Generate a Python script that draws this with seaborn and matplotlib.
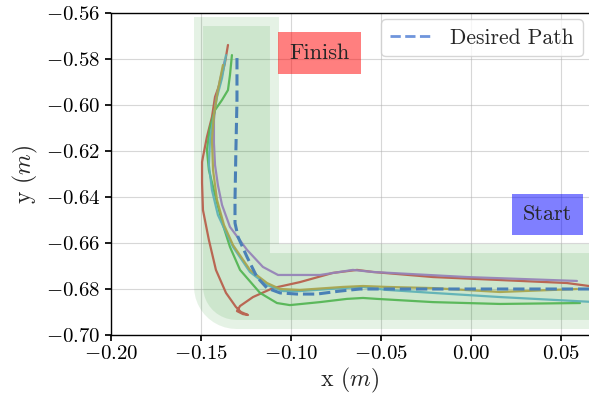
import numpy as np
import pandas as pd
import seaborn as sns
import matplotlib
matplotlib.use("Agg")
import matplotlib.pyplot as plt
from matplotlib.lines import Line2D

# ---- data -------------------------------------------------------------
# reference path the robot is asked to follow
desired_x = [-0.130, -0.130, -0.1306, -0.1311, -0.1311, -0.1294, -0.1244, -0.1189,
             -0.1133, -0.1061, -0.0967, -0.0856, -0.0728, -0.0617, -0.0394, 0.070]
desired_y = [-0.5796, -0.5978, -0.6196, -0.6413, -0.6513, -0.6574, -0.6661, -0.6748,
             -0.6796, -0.6817, -0.6822, -0.6822, -0.6809, -0.6800, -0.6800, -0.6800]

# corridor centre line (free space around the path)
corridor_x = [-0.1308, -0.1308, 0.20]
corridor_y = [-0.580, -0.6785, -0.6785]

# measured trajectories, start (right) -> finish (top left)
run_a_x = [0.0694, 0.0533, 0.0161, -0.0211, -0.0544, -0.0633, -0.0767, -0.0950,
           -0.1100, -0.1211, -0.1283, -0.1300, -0.1267, -0.1239, -0.1278, -0.1306,
           -0.1361, -0.1417, -0.1456, -0.1489, -0.1494, -0.1494, -0.1489, -0.1467,
           -0.1439, -0.1422, -0.1394, -0.1367, -0.1350]
run_a_y = [-0.6791, -0.6774, -0.6761, -0.6748, -0.6726, -0.6717, -0.6730, -0.6770,
           -0.6796, -0.6835, -0.6874, -0.6896, -0.6909, -0.6913, -0.6900, -0.6878,
           -0.6817, -0.6717, -0.6587, -0.6457, -0.6339, -0.6248, -0.6226, -0.6139,
           -0.6052, -0.5965, -0.5904, -0.5817, -0.5739]

run_b_x = [0.0589, -0.0022, -0.0544, -0.0656, -0.0839, -0.0950, -0.1072, -0.1156,
           -0.1244, -0.1339, -0.1383, -0.1406, -0.1422, -0.1428, -0.1428, -0.1417,
           -0.1394, -0.1367]
run_b_y = [-0.6765, -0.6748, -0.6726, -0.6717, -0.6739, -0.6739, -0.6739, -0.6704,
           -0.6630, -0.6530, -0.6435, -0.6348, -0.6261, -0.6165, -0.6065, -0.5978,
           -0.5891, -0.5804]

run_c_x = [0.0606, 0.0161, -0.0211, -0.0522, -0.0600, -0.0689, -0.0839, -0.1006,
           -0.1078, -0.1172, -0.1283, -0.1339, -0.1383, -0.1422, -0.1456, -0.1467,
           -0.1450, -0.1422, -0.1383, -0.1350, -0.1339, -0.1328]
run_c_y = [-0.6861, -0.6865, -0.6857, -0.6843, -0.6839, -0.6843, -0.6857, -0.6870,
           -0.6861, -0.6817, -0.6717, -0.6617, -0.6509, -0.6391, -0.6283, -0.6196,
           -0.6096, -0.6022, -0.5978, -0.5935, -0.5870, -0.5783]

run_d_x = [0.0694, 0.0161, -0.0211, -0.0467, -0.0600, -0.0711, -0.0950, -0.1044,
           -0.1133, -0.1228, -0.1322, -0.1367, -0.1406, -0.1439, -0.1456, -0.1450,
           -0.1433, -0.1411, -0.1383, -0.1361]
run_d_y = [-0.6857, -0.6835, -0.6817, -0.6804, -0.6791, -0.6796, -0.6809, -0.6809,
           -0.6783, -0.6726, -0.6617, -0.6543, -0.6478, -0.6370, -0.6261, -0.6152,
           -0.6065, -0.5965, -0.5883, -0.5783]

run_e_x = [0.0589, 0.0161, -0.0211, -0.0467, -0.0600, -0.0711, -0.0950, -0.1061,
           -0.1133, -0.1228, -0.1322, -0.1372, -0.1411, -0.1433, -0.1439, -0.1428,
           -0.1406, -0.1378]
run_e_y = [-0.6800, -0.6813, -0.6796, -0.6791, -0.6787, -0.6791, -0.6804, -0.6800,
           -0.6774, -0.6717, -0.6609, -0.6522, -0.6413, -0.6283, -0.6152, -0.6043,
           -0.5935, -0.5826]

run_names = ["run 1", "run 2", "run 3", "run 4", "run 5"]
run_colors = ["#b8604d", "#9684b8", "#55b655", "#5fb2b6", "#a9a64f"]

finish_xy = (-0.0842, -0.5774)
start_xy = (0.0425, -0.6476)

# ---- style ------------------------------------------------------------
sns.set_theme(style="whitegrid")
plt.rcParams.update({
    "font.family": "serif",
    "font.serif": ["cmr10"],
    "mathtext.fontset": "cm",
    "axes.formatter.use_mathtext": True,
    "axes.edgecolor": "black",
    "axes.linewidth": 1.0,
    "xtick.bottom": True,
    "ytick.left": True,
    "xtick.major.size": 4,
    "ytick.major.size": 4,
    "xtick.color": "black",
    "ytick.color": "black",
    "grid.color": "#b0b0b0",
    "grid.alpha": 0.5,
    "grid.linewidth": 0.8,
})

fig = plt.figure(figsize=(5.89, 3.98), dpi=100)
ax = fig.add_axes([111 / 589, 63 / 398, 478 / 589, 322 / 398])

# corridor: wide translucent band plus a narrower one on top
for width in (61.2, 48.2):
    ax.plot(corridor_x, corridor_y, color="green", alpha=0.1, lw=width,
            solid_joinstyle="round", solid_capstyle="projecting", zorder=1)

runs = [(run_a_x, run_a_y), (run_b_x, run_b_y), (run_c_x, run_c_y),
        (run_d_x, run_d_y), (run_e_x, run_e_y)]
frames = []
for name, (xs, ys) in zip(run_names, runs):
    frames.append(pd.DataFrame({"x": xs, "y": ys, "run": name,
                                "step": np.arange(len(xs))}))
traj = pd.concat(frames, ignore_index=True)

sns.lineplot(data=traj, x="x", y="y", hue="run", units="run",
             palette=dict(zip(run_names, run_colors)), sort=False,
             estimator=None, lw=1.6, alpha=0.95, legend=False, ax=ax, zorder=3)

sns.lineplot(x=desired_x, y=desired_y, sort=False, estimator=None,
             color="#4a80b6", lw=2.2, linestyle="--", ax=ax, zorder=4)

ax.text(*finish_xy, "Finish", fontsize=16, ha="center", va="center",
        bbox=dict(boxstyle="square,pad=0.5", facecolor="red", alpha=0.5,
                  edgecolor="none"), zorder=5)
ax.text(*start_xy, "Start", fontsize=16, ha="center", va="center",
        bbox=dict(boxstyle="square,pad=0.5", facecolor="blue", alpha=0.5,
                  edgecolor="none"), zorder=5)

handle = Line2D([], [], color="#6f95dc", lw=2.0, linestyle="--")
ax.legend([handle], ["Desired Path"], loc="upper right", fontsize=15.5,
          frameon=True, fancybox=True, framealpha=0.8, edgecolor="#cccccc",
          borderaxespad=0.3)

ax.set_xlim(-0.2, 0.0656)
ax.set_ylim(-0.70, -0.56)
ax.set_xticks([-0.20, -0.15, -0.10, -0.05, 0.00, 0.05])
ax.set_yticks([-0.70, -0.68, -0.66, -0.64, -0.62, -0.60, -0.58, -0.56])
ax.tick_params(labelsize=15)
ax.set_xlabel("x $(m)$", fontsize=17, labelpad=2)
ax.set_ylabel("y $(m)$", fontsize=17, labelpad=4)
ax.spines["right"].set_visible(False)
ax.set_axisbelow(True)

fig.savefig("out.png", dpi=100)
